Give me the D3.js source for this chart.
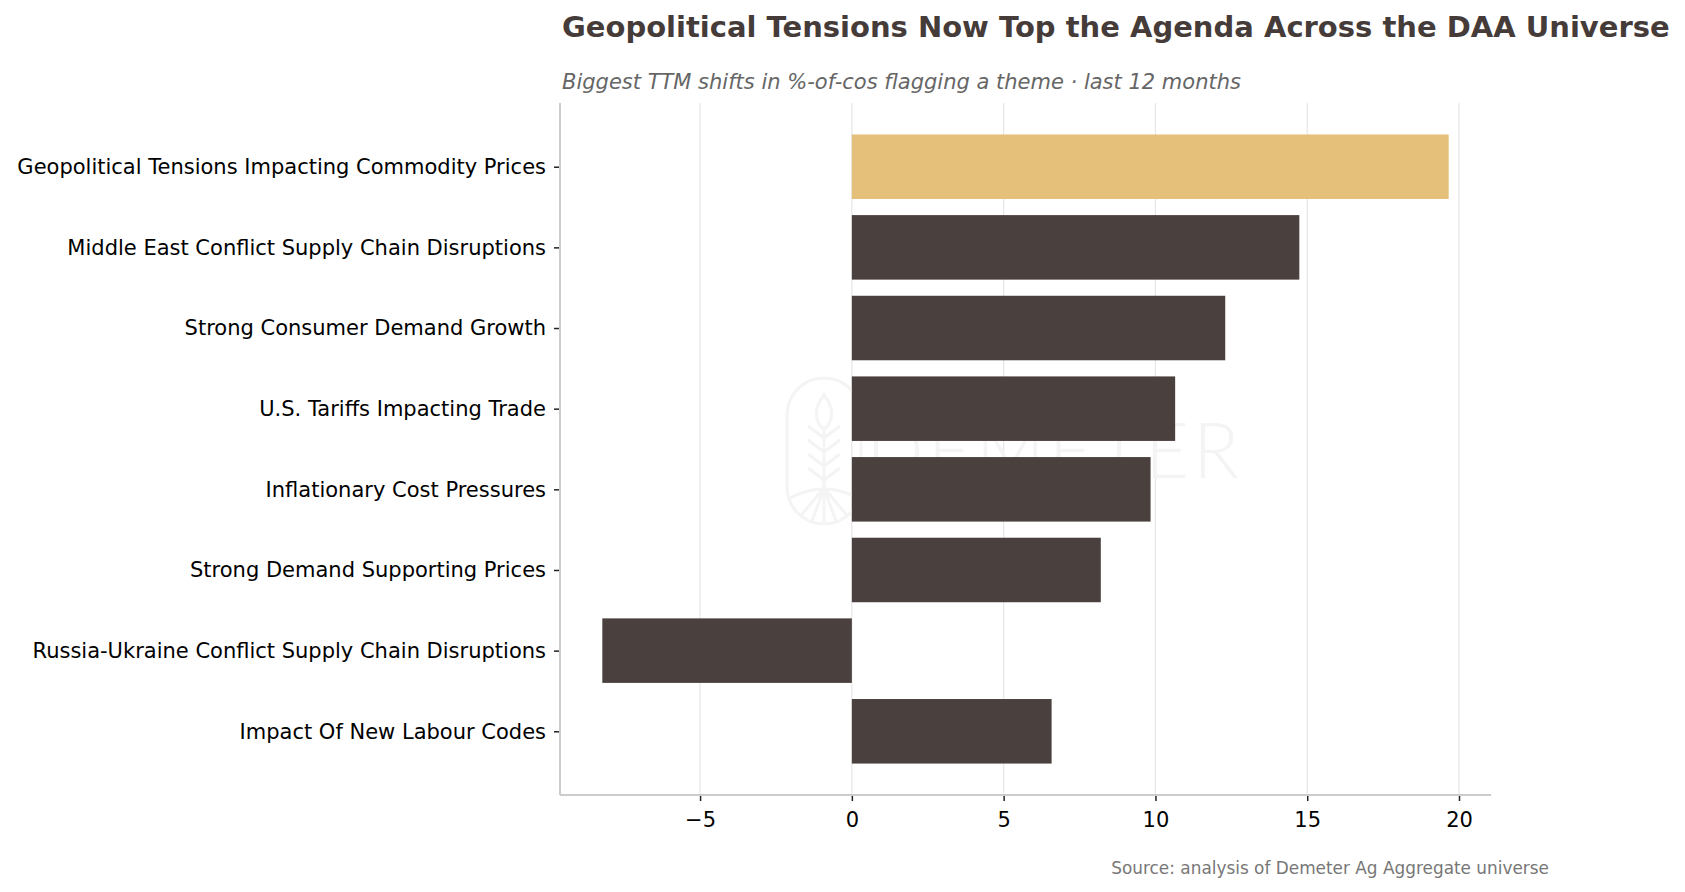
<!DOCTYPE html>
<html>
<head>
<meta charset="utf-8">
<script src="https://cdn.jsdelivr.net/npm/d3@7"></script>
<style>
  body { margin: 0; background: #fff; }
  svg { display: block; font-family: "DejaVu Sans", sans-serif; }
</style>
</head>
<body>
<svg id="chart" width="1685" height="892"></svg>
<script>
// themes, top to bottom
var themes = [
  "Geopolitical Tensions Impacting Commodity Prices",
  "Middle East Conflict Supply Chain Disruptions",
  "Strong Consumer Demand Growth",
  "U.S. Tariffs Impacting Trade",
  "Inflationary Cost Pressures",
  "Strong Demand Supporting Prices",
  "Russia-Ukraine Conflict Supply Chain Disruptions",
  "Impact Of New Labour Codes"
];
// TTM change in % of companies flagging the theme
var shifts = [19.66, 14.74, 12.30, 10.65, 9.84, 8.20, -8.22, 6.58];
var highlight = [true, false, false, false, false, false, false, false];
var xTicks = [-5, 0, 5, 10, 15, 20];

var titleText = "Geopolitical Tensions Now Top the Agenda Across the DAA Universe";
var subtitleText = "Biggest TTM shifts in %-of-cos flagging a theme \u00b7 last 12 months";
var sourceText = "Source: analysis of Demeter Ag Aggregate universe";

var svg = d3.select("#chart");
var axLeft = 560, axRight = 1491, axTop = 103, axBottom = 795;

// matplotlib style 5% margins
var lo = Math.min(0, d3.min(shifts)), hi = Math.max(0, d3.max(shifts));
var pad = (hi - lo) * 0.05;
var xScale = d3.scaleLinear()
  .domain([lo - pad, hi + pad])
  .range([axLeft, axRight]);

// bars are 0.8 tall on an index axis
var ypad = (themes.length - 1 + 0.8) * 0.05;
var yScale = d3.scaleLinear()
  .domain([-0.4 - ypad, themes.length - 1 + 0.4 + ypad])
  .range([axTop, axBottom]);

// grid
svg.append("g")
  .selectAll("line")
  .data(xTicks)
  .join("line")
  .attr("x1", d => xScale(d)).attr("x2", d => xScale(d))
  .attr("y1", axTop).attr("y2", axBottom)
  .attr("stroke", "#e6e6e6")
  .attr("stroke-width", 1.2);

// faint watermark
var wm = svg.append("g")
  .attr("fill", "none")
  .attr("stroke", "#f5f4f4")
  .attr("stroke-width", 3);
wm.append("rect")
  .attr("x", 787).attr("y", 378).attr("width", 74).attr("height", 146)
  .attr("rx", 37).attr("ry", 37);
wm.append("path").attr("d", "M824,395 C814,408 814,420 824,430 C834,420 834,408 824,395 Z");
wm.append("line").attr("x1", 824).attr("y1", 430).attr("x2", 824).attr("y2", 488);
[438, 452, 466, 480].forEach(function (yy) {
  wm.append("path").attr("d", "M808," + (yy - 12) + " L824," + yy + " L840," + (yy - 12));
});
wm.append("path").attr("d", "M790,498 Q824,480 858,498");
[-40, -20, 0, 20, 40].forEach(function (a) {
  var r = Math.PI / 180 * (a + 90);
  wm.append("line")
    .attr("x1", 824).attr("y1", 488)
    .attr("x2", 824 + Math.cos(r) * 36).attr("y2", 488 + Math.sin(r) * 36);
});
svg.append("text")
  .attr("x", 866).attr("y", 478)
  .attr("font-family", "Lato, 'Open Sans', sans-serif")
  .attr("font-weight", 300)
  .attr("font-size", 76)
  .attr("letter-spacing", 4)
  .attr("fill", "#f5f4f4")
  .text("DEMETER");

// bars
var bh = yScale(0.4) - yScale(-0.4);
svg.append("g")
  .selectAll("rect")
  .data(shifts)
  .join("rect")
  .attr("x", d => xScale(Math.min(0, d)))
  .attr("width", d => Math.abs(xScale(d) - xScale(0)))
  .attr("y", (d, i) => yScale(i) - bh / 2)
  .attr("height", bh)
  .attr("fill", (d, i) => highlight[i] ? "#e5c07b" : "#4a403e");

// axes
var baxis = d3.axisBottom(xScale)
  .tickValues(xTicks)
  .tickSizeInner(6)
  .tickSizeOuter(0)
  .tickPadding(11)
  .tickFormat(d => d < 0 ? "\u2212" + Math.abs(d) : d);

var gx = svg.append("g")
  .attr("transform", "translate(0," + axBottom + ")")
  .call(baxis);
gx.select(".domain").remove();
gx.selectAll(".tick line").attr("stroke", "#222").attr("stroke-width", 1.5);
gx.selectAll(".tick text")
  .attr("fill", "#000")
  .attr("font-size", 21)
  .attr("font-family", "DejaVu Sans");

var laxis = d3.axisLeft(yScale)
  .tickValues(d3.range(themes.length))
  .tickSizeInner(6)
  .tickSizeOuter(0)
  .tickPadding(8)
  .tickFormat(i => themes[i]);

var gy = svg.append("g")
  .attr("transform", "translate(" + axLeft + ",0)")
  .call(laxis);
gy.select(".domain").remove();
gy.selectAll(".tick line").attr("stroke", "#222").attr("stroke-width", 1.5);
gy.selectAll(".tick text")
  .attr("fill", "#000")
  .attr("font-size", 21)
  .attr("font-family", "DejaVu Sans");

// spines
svg.append("line")
  .attr("x1", axLeft).attr("x2", axLeft).attr("y1", axTop).attr("y2", axBottom)
  .attr("stroke", "#cccccc").attr("stroke-width", 2);
svg.append("line")
  .attr("x1", axLeft).attr("x2", axRight).attr("y1", axBottom).attr("y2", axBottom)
  .attr("stroke", "#cccccc").attr("stroke-width", 2);

// titles
svg.append("text")
  .attr("x", 562).attr("y", 37)
  .attr("font-size", 29)
  .attr("font-weight", "bold")
  .attr("fill", "#453c3a")
  .text(titleText);

svg.append("text")
  .attr("x", 562).attr("y", 89)
  .attr("font-size", 21)
  .attr("font-style", "italic")
  .attr("fill", "#666666")
  .text(subtitleText);

svg.append("text")
  .attr("x", 1549).attr("y", 874)
  .attr("text-anchor", "end")
  .attr("font-size", 16.9)
  .attr("fill", "#777777")
  .text(sourceText);
</script>
</body>
</html>
